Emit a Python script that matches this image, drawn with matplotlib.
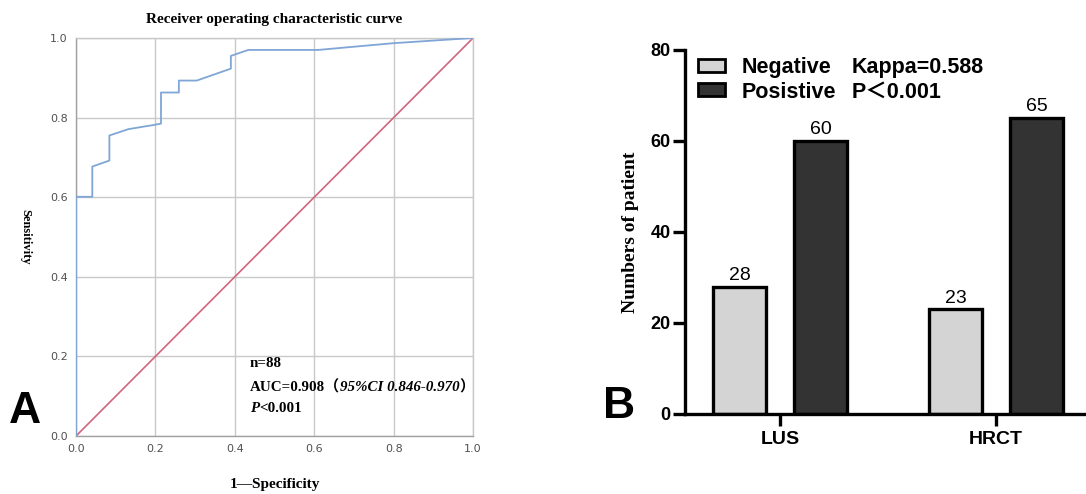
"""
Figura 2 painéis: (A) curva ROC do LUS, (B) contagem negativo/positivo LUS x HRCT.
Valores lidos da figura original.
"""

import matplotlib
matplotlib.use("Agg")
import matplotlib.pyplot as plt

# ---- Dados -----------------------------------------------------------------
# (A) pontos da curva ROC
fpr = [0.0, 0.0, 0.041, 0.041, 0.084, 0.084, 0.132, 0.199, 0.214, 0.214,
       0.259, 0.259, 0.304, 0.390, 0.390, 0.434, 0.610, 0.800, 1.0]
tpr = [0.0, 0.601, 0.601, 0.677, 0.692, 0.755, 0.771, 0.782, 0.785, 0.863,
       0.863, 0.893, 0.893, 0.923, 0.955, 0.970, 0.970, 0.987, 1.0]
ref_diag = [0.0, 1.0]

# (B) barras
metodos = ["LUS", "HRCT"]
negativos = [28, 23]
positivos = [60, 65]
estatisticas = ["Kappa=0.588", "P＜0.001"]

SERIF = ["Liberation Serif", "Noto Sans CJK SC"]
SANS = ["Liberation Sans", "Noto Sans CJK SC"]
AZUL = "#7fa6d6"
VERMELHO = "#d2647e"
CINZA_GRADE = "#c9c9c9"


def texto_encadeado(ax, x, y, pedacos, size=10.8):
    """Escreve pedaços com estilos diferentes lado a lado na mesma linha."""
    ant = None
    for s, estilo in pedacos:
        kw = dict(fontsize=size, fontweight="bold", style=estilo,
                  family=SERIF, va="center", ha="left")
        if ant is None:
            ant = ax.text(x, y, s, transform=ax.transAxes, **kw)
        else:
            ant = ax.annotate(s, xy=(1, 0.5), xycoords=ant, **kw)
    return ant


fig = plt.figure(figsize=(10.86, 4.94), dpi=100)

# ---- Painel A --------------------------------------------------------------
axA = fig.add_axes([0.070, 0.1174, 0.3656, 0.8057])
axA.plot(ref_diag, ref_diag, color=VERMELHO, lw=1.2, zorder=2)
axA.plot(fpr, tpr, color=AZUL, lw=1.3, zorder=3)
axA.set_xlim(0, 1)
axA.set_ylim(0, 1)
ticks = [0.0, 0.2, 0.4, 0.6, 0.8, 1.0]
axA.set_xticks(ticks, [f"{t:.1f}" for t in ticks])
axA.set_yticks(ticks, [f"{t:.1f}" for t in ticks])
axA.tick_params(length=0, labelsize=8, labelcolor="#505050", pad=6)
axA.grid(color=CINZA_GRADE, lw=1.0)
for lado, sp in axA.spines.items():
    sp.set_color("#a0a0a0" if lado in ("left", "bottom") else CINZA_GRADE)
    sp.set_linewidth(1.0)
axA.set_title("Receiver operating characteristic curve", family=SERIF,
              fontweight="bold", fontsize=11, pad=11)
axA.set_xlabel("1—Specificity", family=SERIF, fontweight="bold",
               fontsize=11, labelpad=17)
axA.set_ylabel("Sensitivity", family=SERIF, fontweight="bold",
               fontsize=9, rotation=-90, va="bottom", labelpad=22)

texto_encadeado(axA, 0.438, 0.183, [("n=88", "normal")])
texto_encadeado(axA, 0.438, 0.123, [("AUC=0.908（", "normal"),
                                     ("95%CI 0.846-0.970", "italic"),
                                     ("）", "normal")])
texto_encadeado(axA, 0.438, 0.068, [("P", "italic"), ("<0.001", "normal")])

fig.text(0.023, 0.168, "A", family=SANS, fontweight="bold", fontsize=32,
         ha="center", va="center")

# ---- Painel B --------------------------------------------------------------
axB = fig.add_axes([0.6308, 0.162, 0.3692, 0.7368])
pos = list(range(len(metodos)))
larg = 0.245
desl = 0.1875
b_neg = axB.bar([p - desl for p in pos], negativos, width=larg,
                color="#d4d4d4", edgecolor="black", lw=2.4, label="Negative")
b_pos = axB.bar([p + desl for p in pos], positivos, width=larg,
                color="#333333", edgecolor="black", lw=2.4, label="Posistive")
for barras in (b_neg, b_pos):
    axB.bar_label(barras, padding=2, fontsize=14, family=SANS)

axB.set_xlim(-0.44, 1.417)
axB.set_ylim(0, 80)
axB.set_yticks([0, 20, 40, 60, 80])
axB.set_xticks(pos, metodos)
for lb in axB.get_xticklabels() + axB.get_yticklabels():
    lb.set_family(SANS)
    lb.set_fontweight("bold")
axB.tick_params(axis="y", length=8.5, width=2.4, labelsize=13, pad=2)
axB.tick_params(axis="x", length=8.5, width=2.4, labelsize=14, pad=4)
for lado in ("top", "right"):
    axB.spines[lado].set_visible(False)
for lado in ("left", "bottom"):
    axB.spines[lado].set_linewidth(2.4)
axB.set_ylabel("Numbers of patient", family=SERIF, fontweight="bold",
               fontsize=14, labelpad=8)

leg = axB.legend(loc="upper left", bbox_to_anchor=(0.032, 0.98),
                 frameon=False, handlelength=1.25, handleheight=0.55,
                 handletextpad=0.8, labelspacing=0.15, borderpad=0,
                 borderaxespad=0,
                 prop=dict(family=SANS, weight="bold", size=15.5))
for h in leg.legend_handles:
    h.set_linewidth(2.0)
# estatísticas alinhadas com cada linha da legenda (desenhadas depois dela)
for s, t in zip(estatisticas, leg.get_texts()):
    axB.annotate(s, xy=(852 / 1086, 0.5), xycoords=("figure fraction", t),
                 family=SANS, fontweight="bold", fontsize=15.5,
                 va="center", ha="left", zorder=leg.get_zorder() + 1)

fig.text(0.570, 0.178, "B", family=SANS, fontweight="bold", fontsize=32,
         ha="center", va="center")

fig.savefig("out.png", dpi=100)
